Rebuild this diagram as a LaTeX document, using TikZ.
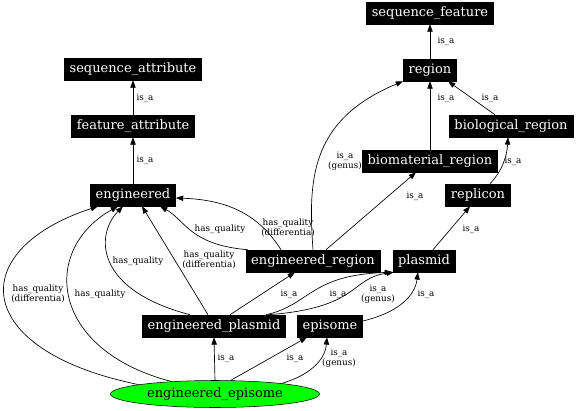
\documentclass[tikz,border=0pt]{standalone}
\usepackage{fontspec}
\setmainfont{DejaVu Serif}
\usetikzlibrary{arrows.meta, shapes.geometric}
\begin{document}
\begin{tikzpicture}[x=0.75pt, y=-0.75pt,
    term/.style={fill=black, draw=black, text=white, font=\fontsize{9.75}{11}\selectfont, inner xsep=4pt, inner ysep=0pt, minimum height=16.5pt},
    leaf/.style={ellipse, fill=green, draw=black, font=\fontsize{9.75}{11}\selectfont, minimum width=156.75pt, minimum height=20.25pt, inner sep=0pt},
    rel/.style={-{Triangle[length=5.5pt,width=4pt]}, line width=0.5pt},
    rellabel/.style={font=\fontsize{6.6}{7.2}\selectfont, align=center, inner sep=0pt}]
    \useasboundingbox (0,0) rectangle (576,411);
    \node[term] (seqfeat) at (430,13) {sequence\_feature};
    \node[term] (region) at (430,70) {region};
    \node[term] (seqattr) at (133,69) {sequence\_attribute};
    \node[term] (featattr) at (133,126) {feature\_attribute};
    \node[term] (bioreg) at (511,126) {biological\_region};
    \node[term] (biomat) at (430,161) {biomaterial\_region};
    \node[term] (eng) at (133,195) {engineered};
    \node[term] (replicon) at (478,195) {replicon};
    \node[term] (engreg) at (313,261) {engineered\_region};
    \node[term] (plasmid) at (424,261) {plasmid};
    \node[term] (engplas) at (214,326) {engineered\_plasmid};
    \node[term] (episome) at (330,326) {episome};
    \node[leaf] (engepi) at (215,394) {engineered\_episome};
    \draw[rel] (region) -- (seqfeat);
    \draw[rel] (featattr) -- (seqattr);
    \draw[rel] (eng) -- (featattr);
    \draw[rel] (biomat) -- (region);
    \draw[rel] ([shift={(-16,0)}]bioreg.north) -- ([shift={(18,0)}]region.south);
    \draw[rel] ([shift={(12,0)}]replicon.north) .. controls (503,170) and (507,155) .. ([shift={(-3,0)}]bioreg.south);
    \draw[rel] (engreg.north) .. controls (308,180) and (310,120) .. ([shift={(-27,0)}]region.south);
    \draw[rel] ([shift={(13,0)}]engreg.north) -- ([shift={(-14,0)}]biomat.south);
    \draw[rel] ([shift={(-65,0)}]engreg.north) .. controls (190,245) and (185,220) .. ([shift={(27,0)}]eng.south);
    \draw[rel] ([shift={(-32,0)}]engreg.north) .. controls (262,220) and (235,200) .. ([shift={(0,3)}]eng.east);
    \draw[rel] ([shift={(9,0)}]plasmid.north) -- ([shift={(-8,0)}]replicon.south);
    \draw[rel] ([shift={(16,0)}]engplas.north) -- ([shift={(-18,0)}]engreg.south);
    \draw[rel] ([shift={(52,0)}]engplas.north) .. controls (310,305) and (310,275) .. ([shift={(-32,0)}]plasmid.south);
    \draw[rel] ([shift={(54,0)}]engplas.north) .. controls (360,308) and (350,278) .. ([shift={(-30,0)}]plasmid.south);
    \draw[rel] ([shift={(0,-5)}]episome.east) .. controls (400,312) and (415,295) .. ([shift={(-6,0)}]plasmid.south);
    \draw[rel] (engepi.north) -- (engplas.south);
    \draw[rel] (engepi.41) -- ([shift={(-23,0)}]episome.south);
    \draw[rel] (engepi.9) .. controls (310,375) and (325,360) .. ([shift={(-3,0)}]episome.south);
    \draw[rel] (engepi.164) .. controls (50,350) and (40,250) .. ([shift={(-15,0)}]eng.south);
    \draw[rel] (engepi.173) .. controls (-30,350) and (-35,250) .. ([shift={(-35,0)}]eng.south);
    \draw[rel] ([shift={(-24,0)}]engplas.north) .. controls (95,290) and (95,235) .. ([shift={(-10,0)}]eng.south);
    \draw[rel] ([shift={(-6,0)}]engplas.north) -- ([shift={(9,0)}]eng.south);
    \node[rellabel] (l-seqfeat) at (446,41) {is\_a};
    \node[rellabel] (l-seqattr) at (145,98) {is\_a};
    \node[rellabel] (l-featattr) at (145,160) {is\_a};
    \node[rellabel] (l-biomat) at (446,98) {is\_a};
    \node[rellabel] (l-bioreg) at (490,98) {is\_a};
    \node[rellabel] (l-replicon) at (513,161) {is\_a};
    \node[rellabel] (l-engreg-region) at (345,161) {is\_a\\(genus)};
    \node[rellabel] (l-engreg-biomat) at (415,196) {is\_a};
    \node[rellabel] (l-engreg-eng) at (220,229) {has\_quality};
    \node[rellabel] (l-engreg-engd) at (288,228) {has\_quality\\(differentia)};
    \node[rellabel] (l-plasmid) at (471,229) {is\_a};
    \node[rellabel] (l-engplas-engreg) at (289,294) {is\_a};
    \node[rellabel] (l-engplas-plasmid) at (338,294) {is\_a};
    \node[rellabel] (l-engplas-plasmidg) at (378,294) {is\_a\\(genus)};
    \node[rellabel] (l-episome) at (426,294) {is\_a};
    \node[rellabel] (l-engplas-eng) at (138,261) {has\_quality};
    \node[rellabel] (l-engplas-engd) at (209,260) {has\_quality\\(differentia)};
    \node[rellabel] (l-engepi-engplas) at (226,358) {is\_a};
    \node[rellabel] (l-engepi-episome) at (295,358) {is\_a};
    \node[rellabel] (l-engepi-episomeg) at (339,358) {is\_a\\(genus)};
    \node[rellabel] (l-engepi-eng) at (100,294) {has\_quality};
    \node[rellabel] (l-engepi-engd) at (38,294) {has\_quality\\(differentia)};
\end{tikzpicture}
\end{document}
